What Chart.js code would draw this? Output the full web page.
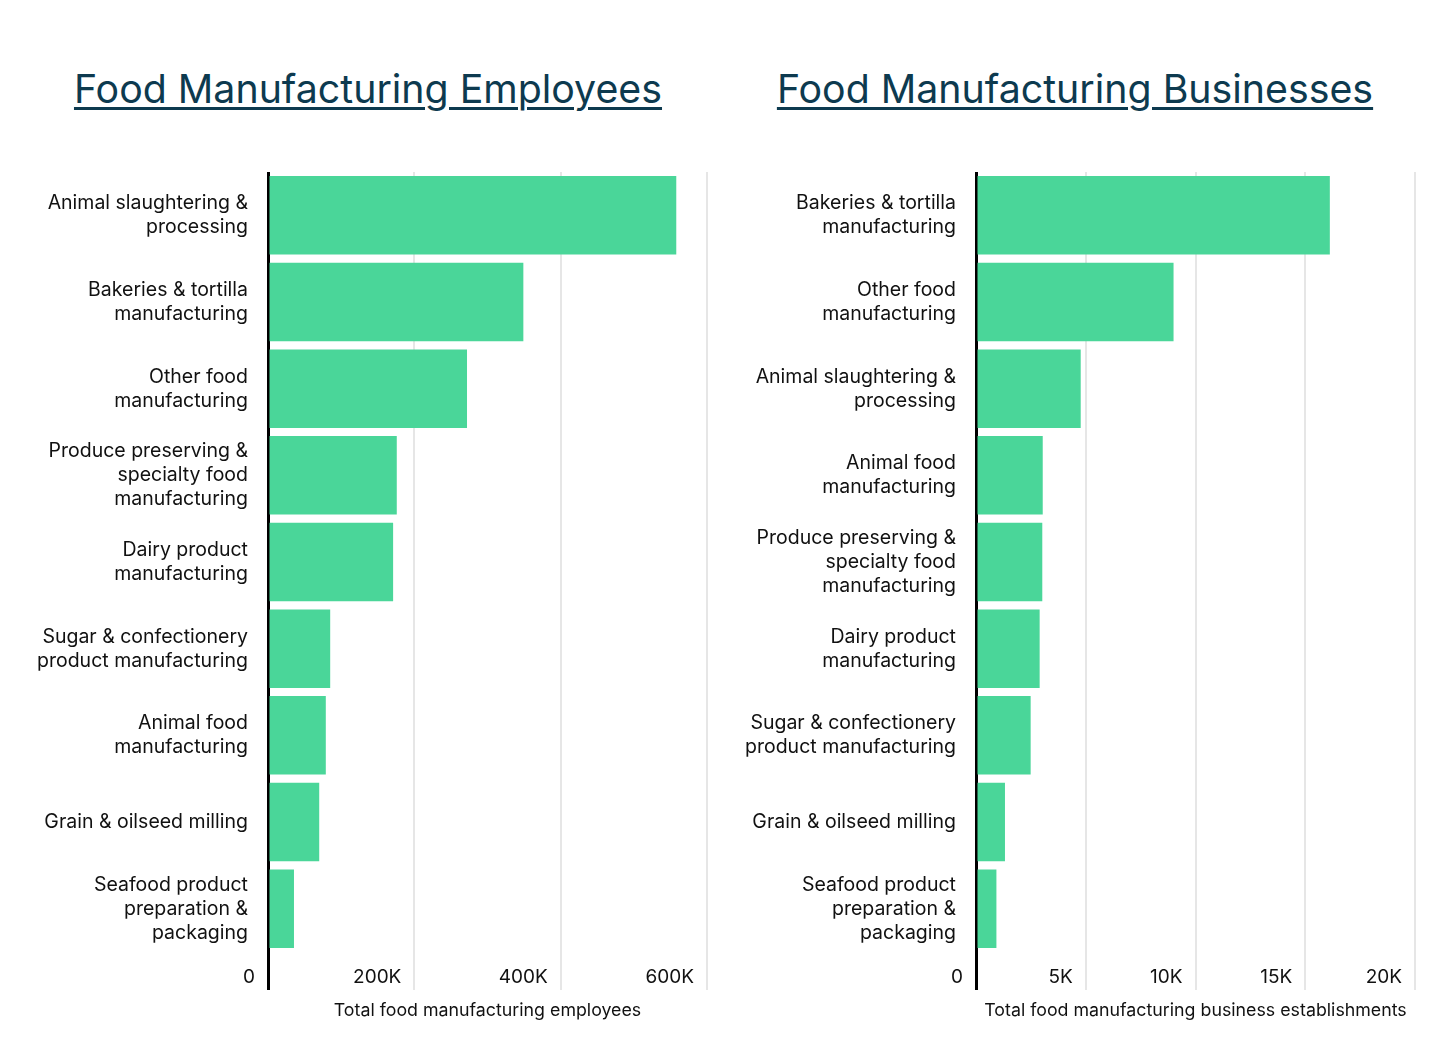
<!DOCTYPE html>
<html>
<head>
<meta charset="utf-8">
<script src="https://cdn.jsdelivr.net/npm/chart.js@4"></script>
<style>
  html, body { margin:0; padding:0; background:#fff; }
  body { width:1450px; height:1050px; position:relative; overflow:hidden; font-family: Inter, Lato, sans-serif; }
  .title { position:absolute; width:700px; text-align:center; font-size:39.3px; color:#0d3a4f; top:65px; line-height:48px;
           text-decoration: underline; text-decoration-thickness:3px; text-underline-offset:4px; }
  .wrap { position:absolute; top:140px; height:881px; }
</style>
</head>
<body>
<div class="title" style="left:18px;">Food Manufacturing Employees</div>
<div class="title" style="left:725px;">Food Manufacturing Businesses</div>
<div class="wrap" style="left:0px; width:725px;"><canvas id="c1"></canvas></div>
<div class="wrap" style="left:708px; width:742px;"><canvas id="c2"></canvas></div>
<script>
// ---- Data ----
const employeeCategories = [
  ["Animal slaughtering &", "processing"],
  ["Bakeries & tortilla", "manufacturing"],
  ["Other food", "manufacturing"],
  ["Produce preserving &", "specialty food", "manufacturing"],
  ["Dairy product", "manufacturing"],
  ["Sugar & confectionery", "product manufacturing"],
  ["Animal food", "manufacturing"],
  ["Grain & oilseed milling"],
  ["Seafood product", "preparation &", "packaging"]
];
const employeeValues = [558000, 349000, 272000, 176000, 171000, 85000, 79000, 70000, 35500];

const businessCategories = [
  ["Bakeries & tortilla", "manufacturing"],
  ["Other food", "manufacturing"],
  ["Animal slaughtering &", "processing"],
  ["Animal food", "manufacturing"],
  ["Produce preserving &", "specialty food", "manufacturing"],
  ["Dairy product", "manufacturing"],
  ["Sugar & confectionery", "product manufacturing"],
  ["Grain & oilseed milling"],
  ["Seafood product", "preparation &", "packaging"]
];
const businessValues = [16120, 9000, 4770, 3040, 3020, 2900, 2490, 1320, 930];

const employeeAxisTitle = "Total food manufacturing employees";
const businessAxisTitle = "Total food manufacturing business establishments";
const employeeMax = 600000, employeeStep = 200000;
const businessMax = 20000, businessStep = 5000;

// ---- Styling ----
const BAR = '#4ad699';
const TEXT = '#111111';
const FONT = "Inter, Lato, sans-serif";

function kLabel(v) {
  return (v === 0 ? '0' : (v / 1000) + 'K') + '\u2002\u2009';
}

function makeChart(id, labels, values, max, step, axisTitle, rightPad) {
  return new Chart(document.getElementById(id), {
    type: 'bar',
    data: {
      labels: labels,
      datasets: [{ data: values, backgroundColor: BAR, borderWidth: 0,
                   barPercentage: 0.905, categoryPercentage: 1.0 }]
    },
    options: {
      indexAxis: 'y',
      responsive: true,
      maintainAspectRatio: false,
      animation: false,
      layout: { padding: { top: 32, right: rightPad, bottom: 0, left: 0 } },
      plugins: { legend: { display: false }, tooltip: { enabled: false } },
      scales: {
        x: {
          type: 'linear', min: 0, max: max,
          border: { display: false },
          grid: {
            color: c => (c.tick && c.tick.value === 0) ? '#000000' : '#e6e6e6',
            lineWidth: c => (c.tick && c.tick.value === 0) ? 3 : 2,
            drawTicks: true, tickLength: 38
          },
          ticks: {
            stepSize: step, align: 'end', padding: -24, maxRotation: 0, autoSkip: false,
            color: TEXT, font: { family: FONT, size: 19 },
            callback: v => kLabel(v)
          },
          title: { display: true, text: axisTitle, color: TEXT,
                   font: { family: FONT, size: 17.8 }, padding: { top: 0, bottom: 0 } },
          afterFit: s => { s.height = 69; s.paddingLeft = 0; s.paddingRight = 0; }
        },
        y: {
          border: { display: false },
          grid: { display: false, drawTicks: false },
          ticks: { padding: 20, color: TEXT, font: { family: FONT, size: 19.5, lineHeight: 1.23 } },
          afterFit: s => { s.width = 268; s.paddingTop = 0; s.paddingBottom = 0; }
        }
      }
    }
  });
}

makeChart('c1', employeeCategories, employeeValues, employeeMax, employeeStep, employeeAxisTitle, 18);
makeChart('c2', businessCategories, businessValues, businessMax, businessStep, businessAxisTitle, 35);
</script>
</body>
</html>
